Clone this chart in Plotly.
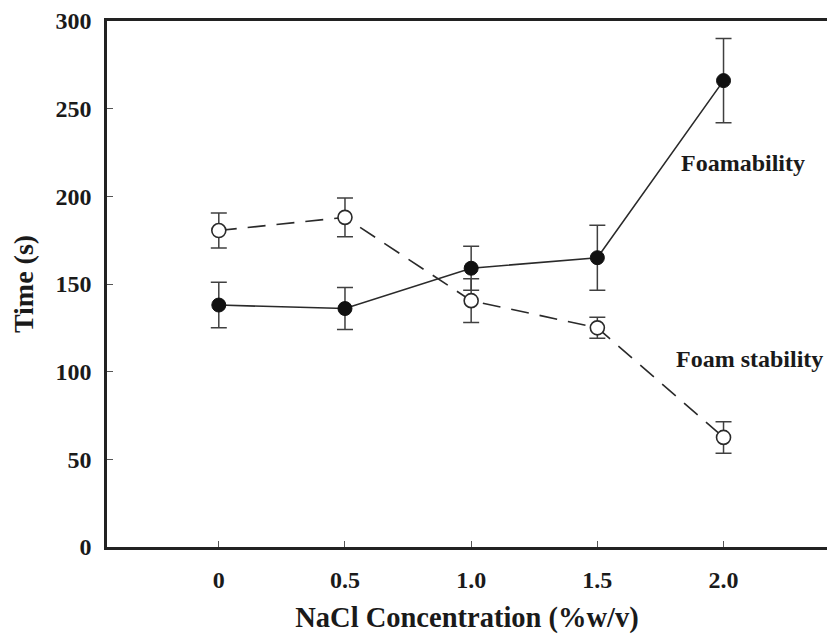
import plotly.graph_objects as go

# NaCl concentration (% w/v)
nacl = [0, 0.5, 1.0, 1.5, 2.0]
x_tick_labels = ["0", "0.5", "1.0", "1.5", "2.0"]

# Foamability time (s) and its standard deviation
foamability = [138, 136, 159, 165, 266]
foamability_err = [13, 12, 12.6, 18.5, 24]

# Foam stability time (s) and its standard deviation
foam_stability = [180.5, 188, 140.5, 125, 62.5]
foam_stability_err = [10, 11, 12.5, 6, 9]

FONT = "Liberation Serif"
INK = "#1a1a1a"

fig = go.Figure()

fig.add_trace(go.Scatter(
    x=nacl, y=foam_stability,
    mode="lines+markers",
    line=dict(color="#2a2a2a", width=1.6, dash="18px,11px"),
    marker=dict(symbol="circle", size=14, color="white",
                line=dict(color="#2a2a2a", width=1.6)),
    error_y=dict(type="data", array=foam_stability_err, visible=True,
                 color="#404040", thickness=1.5, width=8),
    showlegend=False,
))

fig.add_trace(go.Scatter(
    x=nacl, y=foamability,
    mode="lines+markers",
    line=dict(color="#2a2a2a", width=1.6),
    marker=dict(symbol="circle", size=14, color="#111111",
                line=dict(color="#111111", width=1)),
    error_y=dict(type="data", array=foamability_err, visible=True,
                 color="#404040", thickness=1.5, width=8),
    showlegend=False,
))

fig.add_annotation(x=2.0, y=219, xref="x", yref="y", text="Foamability",
                   showarrow=False, xanchor="left", xshift=-45,
                   font=dict(family=FONT, size=24, color=INK, weight="bold"))
fig.add_annotation(x=2.0, y=107, xref="x", yref="y", text="Foam stability",
                   showarrow=False, xanchor="left", xshift=-50,
                   font=dict(family=FONT, size=24, color=INK, weight="bold"))

fig.update_layout(
    width=827, height=635,
    margin=dict(l=107, r=0, t=21, b=88),
    paper_bgcolor="white", plot_bgcolor="white",
    font=dict(family=FONT, color=INK),
    xaxis=dict(
        range=[-0.443, 2.41],
        tickvals=nacl, ticktext=x_tick_labels,
        ticks="inside", ticklen=6, tickwidth=1, tickcolor="#555",
        showline=True, linecolor="#222", linewidth=2.5, mirror=True,
        showgrid=False, zeroline=False,
        tickfont=dict(family=FONT, size=24, color=INK, weight="bold"),
        ticklabelstandoff=9,
        title=dict(text="NaCl Concentration (%w/v)",
                   font=dict(family=FONT, size=28.5, color=INK, weight="bold"),
                   standoff=16),
    ),
    yaxis=dict(
        range=[0, 300],
        tickvals=[0, 50, 100, 150, 200, 250, 300],
        ticks="inside", ticklen=6, tickwidth=1, tickcolor="#555",
        showline=True, linecolor="#222", linewidth=2.5,
        showgrid=False, zeroline=False,
        tickfont=dict(family=FONT, size=24, color=INK, weight="bold"),
        ticklabelstandoff=8,
        title=dict(text="Time (s)",
                   font=dict(family=FONT, size=28, color=INK, weight="bold"),
                   standoff=14),
    ),
)

fig.write_html("out.html")
